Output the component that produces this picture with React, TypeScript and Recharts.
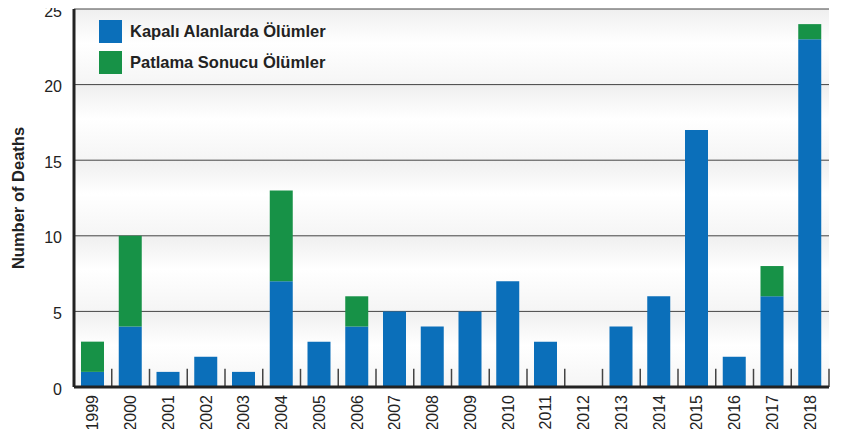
import { Bar, BarChart, CartesianGrid, ReferenceLine, XAxis, YAxis } from "recharts";

const years = ["1999", "2000", "2001", "2002", "2003", "2004", "2005", "2006", "2007", "2008", "2009", "2010", "2011", "2012", "2013", "2014", "2015", "2016", "2017", "2018"];
const indoorDeaths = [1, 4, 1, 2, 1, 7, 3, 4, 5, 4, 5, 7, 3, 0, 4, 6, 17, 2, 6, 23];
const explosionDeaths = [2, 6, 0, 0, 0, 6, 0, 2, 0, 0, 0, 0, 0, 0, 0, 0, 0, 0, 2, 1];
const yTicks = [0, 5, 10, 15, 20, 25];
// category boundaries, for the small ticks between bars
const edgeTicks = years.map((_, i) => i + 1);
const EDGE_TICK_LEN = 1.2; // in y units

const BLUE = "#0b6fba";
const GREEN = "#179247";
const FONT = "'Liberation Sans', Arial, sans-serif";

const data = years.map((year, i) => ({
  year,
  indoor: indoorDeaths[i],
  explosion: explosionDeaths[i],
}));

const legendItems = [
  { label: "Kapalı Alanlarda Ölümler", color: BLUE },
  { label: "Patlama Sonucu Ölümler", color: GREEN },
];

const YearTick = (props: any) => {
  const { x, y, payload } = props;
  return (
    <text
      x={x}
      y={y}
      transform={`rotate(-90, ${x}, ${y})`}
      textAnchor="end"
      dominantBaseline="central"
      fontFamily={FONT}
      fontSize={16}
      fill="#222"
    >
      {payload.value}
    </text>
  );
};

export default function App() {
  return (
    <div style={{ position: "relative", width: 845, height: 437, margin: -8, background: "#fff" }}>
      <BarChart
        width={845}
        height={437}
        data={data}
        margin={{ top: 9, right: 16, left: 0, bottom: 0 }}
        barSize={23}
        style={{ overflow: "visible" }}
      >
        <defs>
          <linearGradient id="band" x1="0" y1="0" x2="0" y2="1">
            <stop offset="0%" stopColor="#efefef" />
            <stop offset="45%" stopColor="#ffffff" />
            <stop offset="100%" stopColor="#f5f5f5" />
          </linearGradient>
        </defs>
        <CartesianGrid
          vertical={false}
          stroke="#444"
          strokeWidth={1}
          horizontalFill={["url(#band)"]}
          fillOpacity={1}
        />
        <XAxis
          xAxisId="edge"
          type="number"
          dataKey="indoor"
          domain={[0, years.length]}
          allowDataOverflow
          hide
        />
        <XAxis
          dataKey="year"
          height={50}
          tick={<YearTick />}
          tickSize={0}
          tickMargin={8}
          tickLine={false}
          axisLine={{ stroke: "#222", strokeWidth: 3 }}
          interval={0}
        />
        <YAxis
          width={74}
          domain={[0, 25]}
          ticks={yTicks}
          tickLine={false}
          axisLine={{ stroke: "#222", strokeWidth: 3 }}
          tick={{ fontFamily: FONT, fontSize: 16, fill: "#222", dy: 2 }}
          tickMargin={6}
          label={{
            value: "Number of Deaths",
            angle: -90,
            position: "insideLeft",
            offset: 18,
            style: { fontFamily: FONT, fontSize: 16.5, fontWeight: 700, fill: "#222", textAnchor: "middle" },
          }}
        />
        {edgeTicks.map((t) => (
          <ReferenceLine
            key={t}
            xAxisId="edge"
            segment={[
              { x: t, y: 0 },
              { x: t, y: EDGE_TICK_LEN },
            ]}
            stroke="#444"
            strokeWidth={1.5}
            ifOverflow="visible"
          />
        ))}
        <Bar dataKey="indoor" stackId="a" fill={BLUE} isAnimationActive={false} />
        <Bar dataKey="explosion" stackId="a" fill={GREEN} isAnimationActive={false} />
      </BarChart>
      <div
        style={{
          position: "absolute",
          left: 99,
          top: 16,
          fontFamily: FONT,
          fontSize: 16.5,
          fontWeight: 700,
          color: "#222",
        }}
      >
        {legendItems.map((item) => (
          <div key={item.label} style={{ display: "flex", alignItems: "center", height: 31 }}>
            <span style={{ width: 23, height: 23, background: item.color, marginRight: 8 }} />
            {item.label}
          </div>
        ))}
      </div>
    </div>
  );
}
